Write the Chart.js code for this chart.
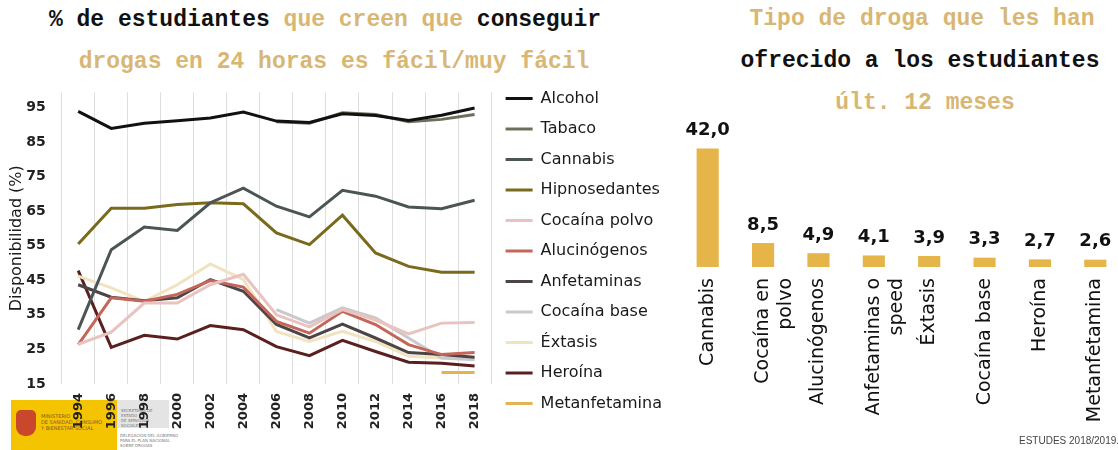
<!DOCTYPE html>
<html lang="es">
<head>
<meta charset="utf-8">
<title>ESTUDES 2018/2019</title>
<script src="https://cdn.jsdelivr.net/npm/chart.js@4.4.0/dist/chart.umd.min.js"></script>
<style>
  html, body { margin: 0; padding: 0; background: #fff; overflow: hidden; }
  body { width: 1118px; height: 450px; position: relative; font-family: 'DejaVu Sans', sans-serif; }
  .titulo {
    position: absolute; white-space: nowrap; transform: translate(-50%, -50%);
    font-family: 'Liberation Mono', 'Courier New', monospace; font-weight: bold;
    font-size: 23px; color: #111;
  }
  .oro { color: #d8b673; }
  canvas { position: absolute; }
  #logo { position: absolute; left: 11px; top: 400px; width: 106px; height: 50px; background: #f5c400; }
  #escudo { position: absolute; left: 5px; top: 10px; width: 20px; height: 26px; background: #c9472b; border-radius: 5px 5px 9px 9px; }
  #logo p { position: absolute; left: 30px; top: 13px; margin: 0; font-size: 5px; line-height: 6px; color: #8a5a2a; }
  #delegacion { position: absolute; left: 117px; top: 400px; width: 52px; height: 28px; background: #e4e4e4; }
  #delegacion p, #plan { margin: 0; font-size: 4px; line-height: 5px; color: #777; }
  #delegacion p { padding: 8px 0 0 4px; }
  #plan { position: absolute; left: 120px; top: 433px; }
  #fuente { position: absolute; left: 1019px; top: 435px; font-family: 'Liberation Sans', sans-serif; font-size: 10px; color: #444; white-space: nowrap; }
</style>
</head>
<body>

<div class="titulo" style="left:325px; top:20px">% de estudiantes <span class="oro">que creen que</span> conseguir</div>
<div class="titulo oro" style="left:334px; top:62px">drogas en 24 horas es fácil/muy fácil</div>

<div class="titulo oro" style="left:922px; top:19px">Tipo de droga que les han</div>
<div class="titulo" style="left:920px; top:61px">ofrecido a los estudiantes</div>
<div class="titulo oro" style="left:925px; top:103px">últ. 12 meses</div>

<div id="logo"><div id="escudo"></div><p>MINISTERIO<br>DE SANIDAD, CONSUMO<br>Y BIENESTAR SOCIAL</p></div>
<div id="delegacion"><p>SECRETARÍA DE ESTADO<br>DE SERVICIOS SOCIALES</p></div>
<div id="plan">DELEGACIÓN DEL GOBIERNO<br>PARA EL PLAN NACIONAL<br>SOBRE DROGAS</div>

<canvas id="dispChart" width="672" height="364" style="left:0; top:76px"></canvas>
<canvas id="ofertaChart" width="443" height="337" style="left:680px; top:100px"></canvas>

<div id="fuente">ESTUDES 2018/2019.</div>

<script>
// Disponibilidad percibida (% fácil/muy fácil), por año de encuesta
const years = ['1994', '1996', '1998', '2000', '2002', '2004', '2006', '2008', '2010', '2012', '2014', '2016', '2018'];
const yTicks = [15, 25, 35, 45, 55, 65, 75, 85, 95];

const alcohol       = [93.8, 88.9, 90.4, 91.1, 91.9, 93.6, 91.0, 90.6, 93.1, 92.6, 91.2, 92.7, 94.8];
const tabaco        = [null, null, null, null, null, null, 90.8, 90.4, 93.4, 92.9, 90.8, 91.5, 92.9];
const cannabis      = [30.7, 53.8, 60.4, 59.4, 67.4, 71.6, 66.4, 63.3, 71.0, 69.3, 66.2, 65.7, 68.1];
const hipnosedantes = [55.5, 65.8, 65.8, 66.9, 67.4, 67.1, 58.7, 55.3, 63.8, 52.9, 49.0, 47.3, 47.3];
const cocainaPolvo  = [26.5, 30.0, 38.4, 38.4, 43.7, 46.7, 35.0, 31.5, 36.5, 33.5, 29.5, 32.6, 32.8];
const alucinogenos  = [26.4, 39.9, 38.9, 40.9, 44.9, 43.0, 33.1, 29.7, 36.0, 32.2, 26.4, 23.5, 24.1];
const anfetaminas   = [43.7, 40.1, 39.1, 39.9, 45.2, 41.8, 32.2, 28.3, 32.3, 28.3, 24.1, 23.5, 22.7];
const cocainaBase   = [null, null, null, null, null, null, 36.5, 32.6, 37.0, 34.1, 28.3, 22.5, 22.0];
const extasis       = [46.2, 42.8, 38.9, 43.7, 49.7, 45.2, 30.2, 27.3, 30.2, 27.3, 23.0, 22.5, 22.5];
const heroina       = [47.8, 25.6, 29.1, 28.0, 31.9, 30.7, 25.8, 23.2, 27.6, 24.4, 21.3, 21.0, 20.2];
const metanfetamina = [null, null, null, null, null, null, null, null, null, null, null, 18.3, 18.3];

// Droga ofrecida en los últimos 12 meses (%)
const drogas   = ['Cannabis', ['Cocaína en', 'polvo'], 'Alucinógenos', ['Anfetaminas o', 'speed'], 'Éxtasis', 'Cocaína base', 'Heroína', 'Metanfetamina'];
const ofrecida = [42.0, 8.5, 4.9, 4.1, 3.9, 3.3, 2.7, 2.6];

Chart.defaults.font.family = "'DejaVu Sans', sans-serif";
Chart.defaults.color = '#1a1a1a';

const lineas = [
    ['Alcohol', alcohol, '#111111'],
    ['Tabaco', tabaco, '#6e6e5c'],
    ['Cannabis', cannabis, '#4b5555'],
    ['Hipnosedantes', hipnosedantes, '#7a6a1c'],
    ['Cocaína polvo', cocainaPolvo, '#e9c3c0'],
    ['Alucinógenos', alucinogenos, '#c4665a'],
    ['Anfetaminas', anfetaminas, '#4d4545'],
    ['Cocaína base', cocainaBase, '#c9c9cc'],
    ['Éxtasis', extasis, '#f1e3bf'],
    ['Heroína', heroina, '#5a1f1f'],
    ['Metanfetamina', metanfetamina, '#e2b552'],
];

new Chart(document.getElementById('dispChart'), {
    type: 'line',
    data: {
        labels: years,
        datasets: lineas.map(([label, data, color]) => ({
            label,
            data,
            borderColor: color,
            backgroundColor: color,
            borderWidth: 3,
            pointRadius: 0,
            tension: 0,
            spanGaps: false,
        })),
    },
    options: {
        responsive: false,
        animation: false,
        devicePixelRatio: 1,
        layout: { padding: 0 },
        plugins: {
            tooltip: { enabled: false },
            legend: {
                position: 'right',
                align: 'start',
                maxWidth: 200,
                labels: {
                    usePointStyle: true,
                    pointStyle: 'line',
                    pointStyleWidth: 27,
                    boxHeight: 16,
                    padding: 14.5,
                    color: '#1a1a1a',
                    font: { size: 16 },
                },
            },
        },
        scales: {
            x: {
                offset: true,
                grid: { offset: true, color: '#dedede', lineWidth: 1, drawTicks: false },
                border: { display: false },
                ticks: {
                    minRotation: 90, maxRotation: 90, autoSkip: false, padding: 9,
                    color: '#222', font: { size: 13, weight: 'bold' },
                },
                afterFit: (scale) => { scale.height = 56; },
            },
            y: {
                min: 15,
                max: 99.3,
                grid: { display: false },
                border: { display: false },
                afterBuildTicks: (scale) => { scale.ticks = yTicks.map(v => ({ value: v })); },
                afterFit: (scale) => { scale.width = 61.7; },
                ticks: { padding: 8, color: '#222', font: { size: 14, weight: 'bold' } },
                title: {
                    display: true,
                    text: 'Disponibilidad (%)',
                    color: '#1a1a1a',
                    font: { size: 16 },
                    padding: { top: 7, bottom: 0 },
                },
            },
        },
    },
});

// etiqueta de valor encima de cada barra, con coma decimal
const etiquetasValor = {
    id: 'etiquetasValor',
    afterDatasetsDraw(chart) {
        const { ctx } = chart;
        const valores = chart.data.datasets[0].data;
        ctx.save();
        ctx.font = "bold 18px 'DejaVu Sans'";
        ctx.fillStyle = '#111';
        ctx.textAlign = 'center';
        ctx.textBaseline = 'bottom';
        chart.getDatasetMeta(0).data.forEach((bar, i) => {
            ctx.fillText(valores[i].toFixed(1).replace('.', ','), bar.x, bar.y - 9);
        });
        ctx.restore();
    },
};

new Chart(document.getElementById('ofertaChart'), {
    type: 'bar',
    data: {
        labels: drogas,
        datasets: [{
            label: 'Ofrecida últ. 12 meses',
            data: ofrecida,
            backgroundColor: '#e6b54a',
            barPercentage: 0.4,
            categoryPercentage: 1,
        }],
    },
    options: {
        responsive: false,
        animation: false,
        devicePixelRatio: 1,
        layout: { padding: { top: 26, right: 0, bottom: 0, left: 0 } },
        plugins: { legend: { display: false }, tooltip: { enabled: false } },
        scales: {
            x: {
                grid: { display: false },
                border: { display: false },
                ticks: {
                    minRotation: 90, maxRotation: 90, autoSkip: false, padding: 3,
                    color: '#111', font: { size: 19 },
                },
                afterFit: (scale) => { scale.height = 170; },
            },
            y: { display: false, min: 0, max: 50 },
        },
    },
    plugins: [etiquetasValor],
});
</script>
</body>
</html>
